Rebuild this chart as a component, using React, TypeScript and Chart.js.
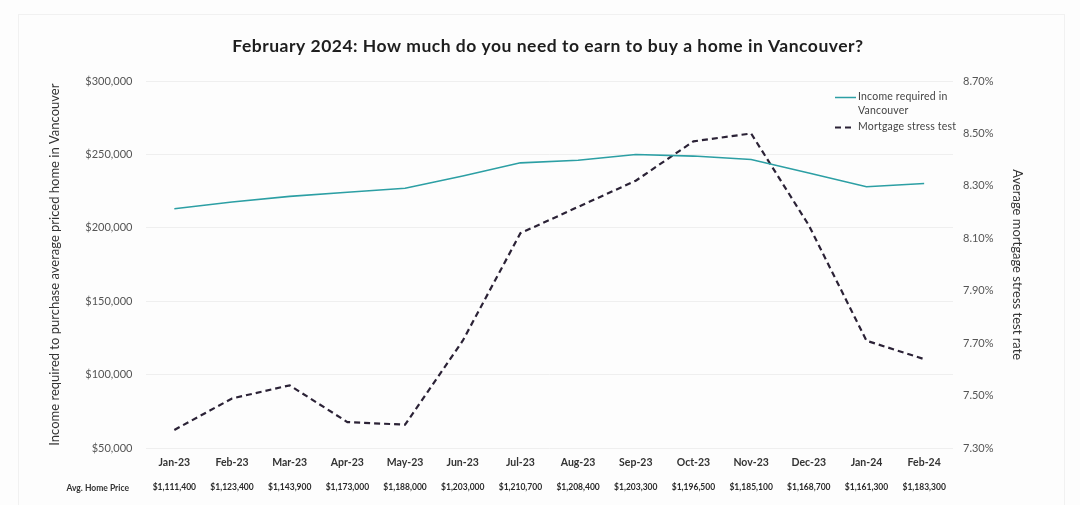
import { useEffect, useRef } from "react";
import { Chart, registerables } from "chart.js";

Chart.register(...registerables);

// Monthly data, Jan 2023 – Feb 2024
const months = [
  "Jan-23", "Feb-23", "Mar-23", "Apr-23", "May-23", "Jun-23", "Jul-23",
  "Aug-23", "Sep-23", "Oct-23", "Nov-23", "Dec-23", "Jan-24", "Feb-24",
];

const avgHomePrices = [
  "$1,111,400", "$1,123,400", "$1,143,900", "$1,173,000", "$1,188,000", "$1,203,000", "$1,210,700",
  "$1,208,400", "$1,203,300", "$1,196,500", "$1,185,100", "$1,168,700", "$1,161,300", "$1,183,300",
];

const incomeRequired = [
  213000, 217600, 221500, 224300, 227000, 235300, 244300,
  246100, 250000, 248900, 246600, 237400, 228000, 230200,
];

const stressTestRate = [
  7.37, 7.49, 7.54, 7.40, 7.39, 7.71, 8.12,
  8.22, 8.32, 8.47, 8.50, 8.15, 7.71, 7.64,
];

const incomeLabel = "Income required in Vancouver";
const stressLabel = "Mortgage stress test";
const titleText = "February 2024: How much do you need to earn to buy a home in Vancouver?";
const leftAxisTitle = "Income required to purchase average priced home in Vancouver";
const rightAxisTitle = "Average mortgage stress test rate";
const priceRowLabel = "Avg. Home Price";

const FONT = "Lato, 'Open Sans', sans-serif";
const TEAL = "#2c9fa4";
const DARK = "#2b2236";

const decorations = {
  id: "decorations",
  beforeDraw(chart: any) {
    const { ctx, width, height } = chart;
    ctx.save();
    ctx.fillStyle = "#fdfdfd";
    ctx.fillRect(0, 0, width, height);
    ctx.strokeStyle = "#f1f1f1";
    ctx.lineWidth = 1;
    ctx.strokeRect(18.5, 14.5, 1046, 500);
    ctx.restore();
  },
  afterDraw(chart: any) {
    const { ctx } = chart;
    ctx.save();
    // heading
    ctx.fillStyle = "#1e1e1e";
    ctx.font = `bold 17.5px ${FONT}`;
    (ctx as any).letterSpacing = "0.5px";
    ctx.textAlign = "center";
    ctx.textBaseline = "middle";
    ctx.fillText(titleText, 548, 46);
    (ctx as any).letterSpacing = "0px";

    // row caption for the price axis
    ctx.font = `bold 8.5px ${FONT}`;
    ctx.fillStyle = "#333";
    ctx.textAlign = "right";
    ctx.fillText(priceRowLabel, 129, 488);

    // legend
    ctx.textAlign = "left";
    ctx.font = `10.5px ${FONT}`;
    (ctx as any).letterSpacing = "0.2px";
    ctx.fillStyle = "#444";
    ctx.strokeStyle = TEAL;
    ctx.lineWidth = 1.5;
    ctx.beginPath();
    ctx.moveTo(835, 97.5);
    ctx.lineTo(856, 97.5);
    ctx.stroke();
    ctx.fillText("Income required in", 858, 97);
    ctx.fillText("Vancouver", 858, 110.5);

    ctx.strokeStyle = DARK;
    ctx.lineWidth = 2;
    ctx.setLineDash([6, 4]);
    ctx.beginPath();
    ctx.moveTo(835, 127.5);
    ctx.lineTo(854, 127.5);
    ctx.stroke();
    ctx.setLineDash([]);
    ctx.fillText(stressLabel, 858, 127);
    ctx.restore();
  },
};

export default function App() {
  const canvasRef = useRef<HTMLCanvasElement | null>(null);

  useEffect(() => {
    document.body.style.margin = "0";
    const canvas = canvasRef.current;
    if (!canvas) return;

    const chart = new Chart(canvas, {
      type: "line",
      data: {
        labels: months,
        datasets: [
          {
            label: incomeLabel,
            data: incomeRequired,
            yAxisID: "y",
            borderColor: TEAL,
            backgroundColor: TEAL,
            borderWidth: 1.6,
            pointRadius: 0,
            tension: 0,
          },
          {
            label: stressLabel,
            data: stressTestRate,
            yAxisID: "y1",
            borderColor: DARK,
            backgroundColor: DARK,
            borderWidth: 2.2,
            borderDash: [6, 4],
            pointRadius: 0,
            tension: 0,
          },
        ],
      },
      plugins: [decorations],
      options: {
        animation: false,
        responsive: false,
        maintainAspectRatio: false,
        layout: { padding: { top: 81, right: 0, bottom: 10.7, left: 0 } },
        plugins: {
          legend: { display: false },
          title: { display: false },
          tooltip: { enabled: false },
        },
        scales: {
          x: {
            type: "category",
            position: "bottom",
            offset: true,
            afterFit: (axis: any) => {
              axis.height = 20;
            },
            grid: { display: false, drawTicks: false },
            border: { display: false },
            ticks: {
              padding: 8,
              color: "#333",
              font: { family: FONT, size: 10.5, weight: "bold" },
              maxRotation: 0,
              autoSkip: false,
            },
          },
          x2: {
            type: "category",
            position: "bottom",
            labels: avgHomePrices,
            offset: true,
            afterFit: (axis: any) => {
              axis.height = 26;
            },
            grid: { display: false, drawTicks: false },
            border: { display: false },
            ticks: {
              padding: 14,
              color: "#2a2a2a",
              font: { family: FONT, size: 8.5, weight: "bold" },
              maxRotation: 0,
              autoSkip: false,
            },
          },
          y: {
            type: "linear",
            position: "left",
            min: 50000,
            max: 300000,
            afterFit: (axis: any) => {
              axis.width = 145.5;
            },
            grid: { color: "#efefef", drawTicks: false, lineWidth: 1 },
            border: { display: false },
            ticks: {
              stepSize: 50000,
              padding: 13,
              color: "#555",
              font: { family: FONT, size: 11 },
              callback: (v: any) => "$" + Number(v).toLocaleString("en-US"),
            },
            title: {
              display: true,
              text: leftAxisTitle,
              color: "#333",
              font: { family: FONT, size: 13 },
              padding: { top: 47, bottom: 0 },
            },
          },
          y1: {
            type: "linear",
            position: "right",
            min: 7.3,
            max: 8.7,
            afterFit: (axis: any) => {
              axis.width = 127;
            },
            grid: { display: false, drawTicks: false },
            border: { display: false },
            ticks: {
              stepSize: 0.2,
              padding: 10,
              color: "#555",
              font: { family: FONT, size: 11 },
              callback: (v: any) => Number(v).toFixed(2) + "%",
            },
            title: {
              display: true,
              text: rightAxisTitle,
              color: "#333",
              font: { family: FONT, size: 13 },
              padding: { top: 55, bottom: 0 },
            },
          },
        },
      },
    });

    return () => chart.destroy();
  }, []);

  return (
    <div style={{ width: 1080, height: 505 }}>
      <canvas ref={canvasRef} width={1080} height={505} style={{ display: "block" }} />
    </div>
  );
}
